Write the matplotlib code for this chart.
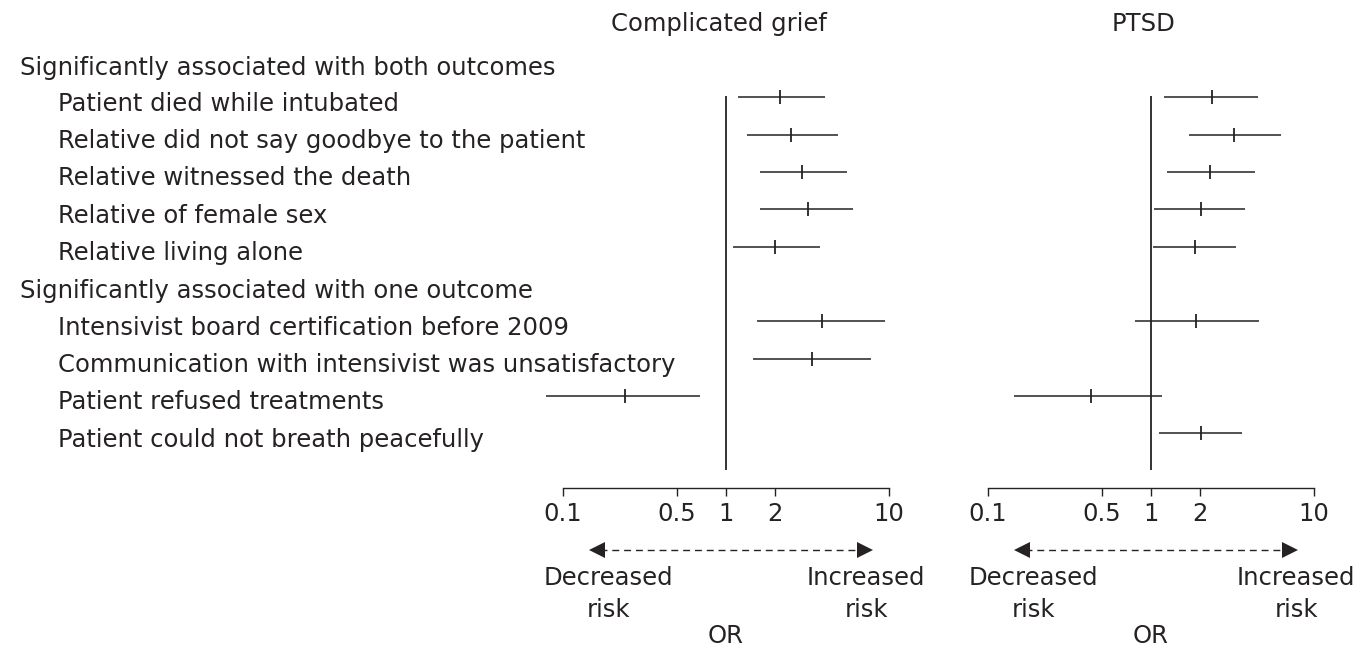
"""Forest plot: factors associated with complicated grief and PTSD (OR, 95% CI)."""
import matplotlib
matplotlib.use("Agg")
import matplotlib.pyplot as plt
import matplotlib.transforms as mtransforms
import numpy as np

# --- data -----------------------------------------------------------------
GROUPS = [
    "Significantly associated with both outcomes",
    "Significantly associated with one outcome",
]
FACTORS = [
    "Patient died while intubated",
    "Relative did not say goodbye to the patient",
    "Relative witnessed the death",
    "Relative of female sex",
    "Relative living alone",
    "Intensivist board certification before 2009",
    "Communication with intensivist was unsatisfactory",
    "Patient refused treatments",
    "Patient could not breath peacefully",
]
FACTOR_GROUP = [0, 0, 0, 0, 0, 1, 1, 1, 1]

cg_or = [2.14, 2.52, 2.91, 3.18, 2.00, 3.88, 3.35, 0.241, np.nan]
cg_lo = [1.18, 1.34, 1.62, 1.62, 1.11, 1.56, 1.46, 0.079, np.nan]
cg_hi = [4.05, 4.84, 5.53, 6.04, 3.77, 9.45, 7.76, 0.69, np.nan]

ptsd_or = [2.38, 3.25, 2.30, 2.02, 1.85, 1.88, np.nan, 0.43, 2.02]
ptsd_lo = [1.21, 1.71, 1.26, 1.05, 1.03, 0.80, np.nan, 0.144, 1.12]
ptsd_hi = [4.52, 6.23, 4.36, 3.76, 3.33, 4.59, np.nan, 1.16, 3.63]

TICKS = [0.1, 0.5, 1, 2, 10]
TICK_LABELS = ["0.1", "0.5", "1", "2", "10"]

# --- style ----------------------------------------------------------------
INK = "#262223"
FS = 17.5
plt.rcParams["font.family"] = ["DejaVu Sans"]
plt.rcParams["text.color"] = INK

W, H = 1360, 648
fig = plt.figure(figsize=(W / 100, H / 100), dpi=100)


def px_x(x):
    return x / W


def px_y(y):
    return 1 - y / H


# row layout: each group header takes a row, then its factors
row_y, header_y = [], []
pos = 0
prev = None
for g in FACTOR_GROUP:
    if g != prev:
        header_y.append(pos)
        pos += 1
        prev = g
    row_y.append(pos)
    pos += 1
row_y = np.array(row_y, dtype=float)

AX_TOP, AX_BOT = 40, 488          # pixel rows of axes box
Y_TOP, Y_BOT = -0.54, 11.47       # data limits matching those pixels

panels = [
    ("Complicated grief", 563, 889, cg_or, cg_lo, cg_hi, 719, 0.93),
    ("PTSD", 988, 1314, ptsd_or, ptsd_lo, ptsd_hi, 1143, 0.945),
]

axes = []
for title, x0, x1, est, lo, hi, tx, inc_x in panels:
    ax = fig.add_axes([px_x(x0), px_y(AX_BOT), (x1 - x0) / W,
                       (AX_BOT - AX_TOP) / H])
    axes.append(ax)
    ax.set_xscale("log")
    ax.set_xlim(0.1, 10)
    ax.set_ylim(Y_BOT, Y_TOP)
    ax.patch.set_visible(False)
    for s in ("top", "left", "right"):
        ax.spines[s].set_visible(False)
    ax.spines["bottom"].set_color(INK)
    ax.spines["bottom"].set_linewidth(1.0)
    ax.set_yticks([])
    ax.xaxis.set_minor_locator(matplotlib.ticker.NullLocator())
    ax.set_xticks(TICKS)
    ax.set_xticklabels(TICK_LABELS)
    ax.tick_params(axis="x", direction="out", length=6, width=1.0,
                   color=INK, labelcolor=INK, labelsize=FS, pad=4)

    # reference line at OR = 1
    ax.vlines(1, 0.95, 11.0, color=INK, lw=1.3)

    est = np.array(est)
    lo = np.array(lo)
    hi = np.array(hi)
    ok = ~np.isnan(est)
    ax.hlines(row_y[ok], lo[ok], hi[ok], color=INK, lw=1.1, clip_on=False)
    ax.plot(est[ok], row_y[ok], ls="none", marker="|", ms=10, mew=1.3,
            color=INK, clip_on=False)

    # panel title
    fig.text(px_x(tx), px_y(24), title, ha="center", va="center", fontsize=FS)

    # direction arrow
    btr = mtransforms.blended_transform_factory(ax.transAxes, fig.transFigure)
    ya = px_y(550)
    ax.plot([0.115, 0.915], [ya, ya], transform=btr, ls=(0, (5, 3.5)),
            lw=1.0, color=INK, clip_on=False)
    ax.plot([0.105], [ya], transform=btr, marker="<", ms=11, color=INK,
            mew=0, clip_on=False)
    ax.plot([0.925], [ya], transform=btr, marker=">", ms=11, color=INK,
            mew=0, clip_on=False)

    ax.text(0.140, px_y(594), "Decreased\nrisk", transform=btr, ha="center",
            va="center", fontsize=FS, linespacing=1.4)
    ax.text(inc_x, px_y(594), "Increased\nrisk", transform=btr, ha="center",
            va="center", fontsize=FS, linespacing=1.4)
    btr_d = mtransforms.blended_transform_factory(ax.transData, fig.transFigure)
    ax.text(1, px_y(636), "OR", transform=btr_d, ha="center", va="center",
            fontsize=FS)

# row labels on the left
ltr = mtransforms.blended_transform_factory(fig.transFigure, axes[0].transData)
for y, name in zip(header_y, GROUPS):
    fig.text(px_x(20), y + 0.2, name, transform=ltr, ha="left",
             va="center", fontsize=FS)
for y, name in zip(row_y, FACTORS):
    fig.text(px_x(58), y + 0.17, name, transform=ltr, ha="left",
             va="center", fontsize=FS)

fig.savefig("out.png", dpi=100)
